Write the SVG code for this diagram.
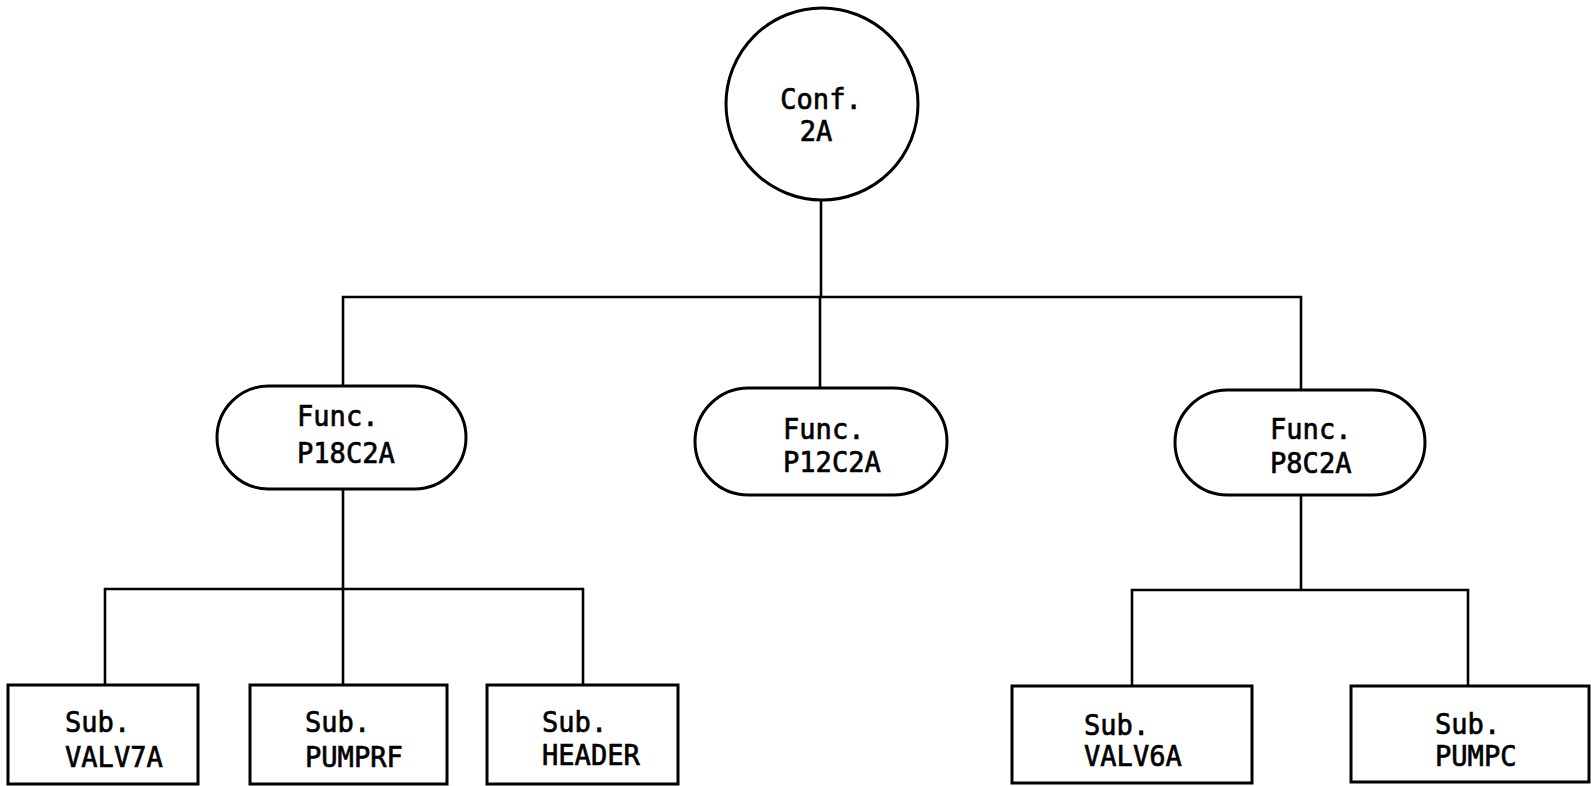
<svg xmlns="http://www.w3.org/2000/svg" width="1591" height="786" viewBox="0 0 1591 786">
<style>
.shape{fill:#fff;stroke:#000;stroke-width:3}
.conn{fill:none;stroke:#000;stroke-width:2.6;stroke-linecap:square}
.lbl{font-family:"DejaVu Sans Mono","Liberation Mono",monospace;font-size:29px;fill:#000;stroke:#000;stroke-width:0.7}
</style>
<rect width="1591" height="786" fill="#fff"/>
<g id="connectors">
<path class="conn" d="M821 200V297M343 297H1301M343 297V386M820 297V388M1301 297V390"/>
<path class="conn" d="M343 489V589M105 589H583M105 589V685M343 589V685M583 589V685"/>
<path class="conn" d="M1301 495V590M1132 590H1468M1132 590V686M1468 590V686"/>
</g>
<g id="conf2a">
<circle class="shape" cx="822" cy="104" r="96"/>
<text class="lbl" x="821" y="109" text-anchor="middle" textLength="81.5" lengthAdjust="spacingAndGlyphs">Conf.</text>
<text class="lbl" x="816" y="141" text-anchor="middle" textLength="32.6" lengthAdjust="spacingAndGlyphs">2A</text>
</g>
<g id="p18c2a">
<rect class="shape" x="217" y="386" width="249" height="103" rx="51.5"/>
<text class="lbl" x="297" y="426" textLength="81.5" lengthAdjust="spacingAndGlyphs">Func.</text>
<text class="lbl" x="297" y="463" textLength="97.8" lengthAdjust="spacingAndGlyphs">P18C2A</text>
</g>
<g id="p12c2a">
<rect class="shape" x="695" y="388" width="252" height="107" rx="53.5"/>
<text class="lbl" x="783" y="439" textLength="81.5" lengthAdjust="spacingAndGlyphs">Func.</text>
<text class="lbl" x="783" y="472" textLength="97.8" lengthAdjust="spacingAndGlyphs">P12C2A</text>
</g>
<g id="p8c2a">
<rect class="shape" x="1175" y="390" width="250" height="105" rx="52.5"/>
<text class="lbl" x="1270" y="439" textLength="81.5" lengthAdjust="spacingAndGlyphs">Func.</text>
<text class="lbl" x="1270" y="473" textLength="81.5" lengthAdjust="spacingAndGlyphs">P8C2A</text>
</g>
<g id="valv7a">
<rect class="shape" x="8" y="685" width="190" height="99"/>
<text class="lbl" x="65" y="732" textLength="65.2" lengthAdjust="spacingAndGlyphs">Sub.</text>
<text class="lbl" x="65" y="767" textLength="97.8" lengthAdjust="spacingAndGlyphs">VALV7A</text>
</g>
<g id="pumprf">
<rect class="shape" x="250" y="685" width="197" height="99"/>
<text class="lbl" x="305" y="732" textLength="65.2" lengthAdjust="spacingAndGlyphs">Sub.</text>
<text class="lbl" x="305" y="767" textLength="97.8" lengthAdjust="spacingAndGlyphs">PUMPRF</text>
</g>
<g id="header">
<rect class="shape" x="487" y="685" width="191" height="99"/>
<text class="lbl" x="542" y="732" textLength="65.2" lengthAdjust="spacingAndGlyphs">Sub.</text>
<text class="lbl" x="542" y="765" textLength="97.8" lengthAdjust="spacingAndGlyphs">HEADER</text>
</g>
<g id="valv6a">
<rect class="shape" x="1012" y="686" width="240" height="97"/>
<text class="lbl" x="1084" y="735" textLength="65.2" lengthAdjust="spacingAndGlyphs">Sub.</text>
<text class="lbl" x="1084" y="766" textLength="97.8" lengthAdjust="spacingAndGlyphs">VALV6A</text>
</g>
<g id="pumpc">
<rect class="shape" x="1351" y="686" width="238" height="96"/>
<text class="lbl" x="1435" y="734" textLength="65.2" lengthAdjust="spacingAndGlyphs">Sub.</text>
<text class="lbl" x="1435" y="766" textLength="81.5" lengthAdjust="spacingAndGlyphs">PUMPC</text>
</g>
</svg>
